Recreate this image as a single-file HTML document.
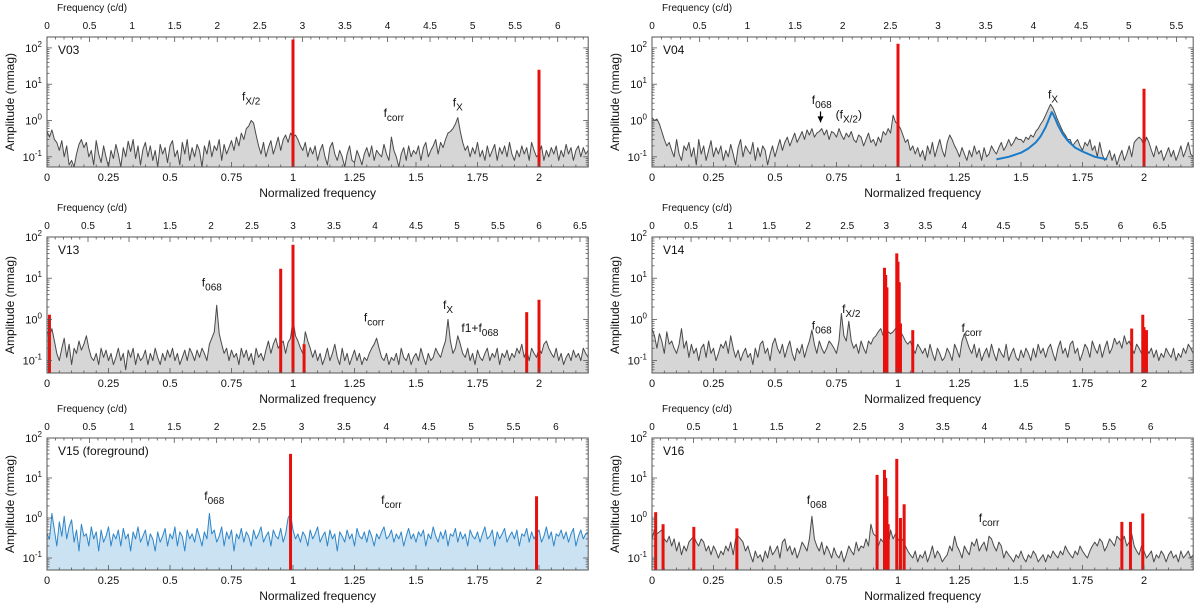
<!DOCTYPE html>
<html><head><meta charset="utf-8">
<style>
html,body{margin:0;padding:0;background:#fff;}
svg{display:block;font-family:"Liberation Sans",Arial,sans-serif;}
</style></head>
<body>
<svg id="fig" width="1200" height="607" viewBox="0 0 1200 607" xmlns="http://www.w3.org/2000/svg"></svg>
<script>
// ---------- data ----------
const freqStep = 0.01;
const noiseV03 = [.5,.35,.55,.3,.25,.15,.28,.1,.2,.06,.08,.05,.12,.22,.3,.18,.25,.1,.15,.06,.28,.12,.07,.2,.1,.05,.15,.09,.22,.12,.05,.18,.1,.27,.14,.3,.09,.2,.06,.16,.25,.1,.2,.08,.15,.05,.22,.12,.18,.07,.2,.28,.1,.15,.06,.25,.12,.3,.08,.18,.1,.22,.15,.05,.2,.12,.28,.1,.2,.15,.3,.08,.22,.12,.18,.28,.15,.35,.2,.45,.3,.6,.7,1.0,.85,.4,.2,.12,.25,.1,.18,.28,.12,.2,.35,.15,.3,.4,.25,.45,.35,.4,.3,.2,.15,.25,.1,.18,.12,.2,.08,.15,.22,.1,.06,.18,.25,.12,.08,.15,.1,.05,.12,.2,.08,.07,.15,.1,.06,.12,.18,.1,.2,.08,.15,.12,.1,.22,.12,.08,.35,.15,.1,.05,.12,.18,.08,.2,.1,.15,.12,.2,.08,.18,.25,.1,.15,.2,.3,.12,.25,.18,.3,.45,.5,.6,.8,1.2,.5,.25,.15,.2,.1,.18,.12,.25,.1,.15,.08,.2,.1,.15,.22,.08,.18,.12,.2,.1,.25,.12,.08,.15,.1,.2,.12,.18,.08,.25,.15,.1,.12,.2,.08,.15,.1,.18,.12,.2,.08,.15,.1,.22,.12,.18,.08,.15,.2,.1,.18,.12,.15];
const noiseV04 = [1.2,1.0,1.1,.8,.5,.3,.2,.25,.15,.1,.3,.12,.08,.2,.15,.25,.1,.18,.06,.3,.12,.2,.08,.15,.28,.1,.18,.12,.2,.08,.15,.1,.22,.12,.06,.18,.3,.1,.2,.15,.12,.25,.08,.18,.1,.2,.15,.06,.12,.2,.1,.18,.3,.15,.25,.35,.2,.3,.45,.25,.35,.5,.3,.55,.4,.6,.35,.45,.5,.6,.4,.55,.3,.5,.45,.35,.6,.4,.3,.45,.35,.5,.3,.25,.4,.35,.2,.3,.45,.25,.3,.2,.35,.25,.5,.4,.6,.45,1.4,.9,.8,.6,.4,.25,.3,.15,.2,.12,.18,.1,.15,.08,.2,.12,.25,.1,.18,.3,.15,.1,.25,.4,.3,.2,.15,.1,.18,.12,.08,.15,.1,.2,.12,.15,.08,.18,.1,.12,.2,.15,.12,.18,.25,.15,.2,.3,.2,.25,.35,.3,.3,.25,.35,.3,.4,.35,.5,.6,.8,1.0,1.4,2.0,2.8,2.2,1.5,1.0,.7,.5,.4,.3,.3,.2,.25,.3,.2,.15,.25,.2,.3,.15,.2,.1,.25,.12,.08,.1,.15,.08,.12,.06,.1,.15,.08,.12,.2,.1,.25,.3,.35,.3,.2,.35,.25,.15,.1,.2,.12,.15,.08,.12,.18,.1,.15,.08,.12,.2,.1,.15,.25,.12,.1];
const noiseV13 = [.5,.4,.6,.3,.15,.1,.2,.35,.12,.25,.08,.2,.15,.3,.18,.25,.4,.2,.12,.1,.15,.08,.2,.12,.18,.1,.15,.08,.12,.2,.1,.15,.06,.18,.12,.2,.08,.15,.1,.12,.18,.08,.15,.1,.2,.12,.08,.15,.1,.18,.12,.2,.1,.15,.08,.12,.18,.1,.2,.15,.1,.18,.12,.2,.15,.1,.25,.35,.5,2.2,.45,.25,.15,.2,.1,.18,.12,.15,.08,.2,.12,.18,.1,.15,.08,.2,.12,.15,.1,.18,.3,.15,.25,.35,.2,.25,.3,.15,.28,.35,1.0,.4,.3,.2,.15,.5,.3,.2,.12,.18,.1,.15,.08,.12,.2,.1,.15,.25,.12,.08,.2,.1,.15,.08,.12,.18,.1,.15,.08,.12,.1,.15,.2,.25,.35,.2,.12,.1,.15,.08,.12,.1,.15,.08,.2,.12,.1,.15,.08,.12,.15,.1,.2,.12,.08,.15,.1,.12,.2,.15,.12,.2,.3,1.0,.3,.15,.2,.4,.25,.15,.12,.2,.1,.15,.08,.18,.12,.1,.15,.2,.1,.15,.12,.2,.08,.15,.12,.18,.1,.15,.12,.2,.15,.25,.12,.18,.1,.2,.15,.12,.2,.15,.25,.3,.2,.15,.12,.2,.1,.15,.08,.12,.15,.1,.18,.12,.15,.1,.2,.15,.12];
const noiseV14 = [.6,.4,.2,.45,.3,.15,.5,.25,.3,.2,.15,.25,.6,.2,.3,.12,.25,.15,.2,.1,.2,.25,.12,.3,.15,.2,.1,.15,.25,.2,.3,.15,.4,.2,.12,.18,.1,.15,.2,.12,.15,.08,.2,.12,.25,.3,.15,.2,.1,.25,.35,.2,.15,.25,.12,.2,.3,.15,.1,.2,.15,.25,.12,.2,.3,.55,.25,.15,.3,.2,.15,.2,.3,.25,.2,.15,.3,1.4,.4,.3,.9,.3,.2,.25,.15,.3,.2,.15,.3,.25,.35,.4,.5,.6,.4,.35,.5,.45,.5,.6,.8,.5,.4,.3,.25,.3,.2,.15,.25,.2,.15,.2,.12,.25,.15,.1,.2,.15,.1,.12,.2,.15,.1,.25,.18,.12,.3,.45,.3,.2,.15,.25,.12,.2,.1,.15,.2,.12,.25,.15,.1,.2,.15,.12,.25,.1,.15,.2,.12,.1,.18,.12,.2,.15,.1,.2,.12,.25,.15,.2,.12,.2,.25,.15,.1,.2,.3,.15,.2,.12,.25,.3,.15,.2,.1,.15,.25,.2,.12,.3,.2,.15,.25,.12,.2,.3,.15,.2,.35,.25,.3,.2,.4,.25,.3,.2,.15,.25,.2,.15,.3,.2,.15,.2,.12,.18,.1,.15,.12,.2,.15,.12,.2,.1,.15,.12,.2,.15,.25,.2,.15];
const noiseV15 = [.4,.3,1.3,.5,.2,.8,.35,1.1,.3,.6,.9,.25,.5,.15,.7,.35,.4,.2,.6,.3,.45,.15,.5,.25,.35,.6,.2,.4,.3,.5,.2,.55,.3,.4,.15,.45,.3,.6,.25,.35,.5,.2,.4,.3,.15,.45,.25,.35,.55,.2,.4,.3,.6,.2,.45,.35,.15,.5,.3,.4,.25,.55,.35,.2,.45,.3,1.3,.4,.5,.25,.35,.6,.2,.45,.3,.5,.15,.4,.3,.55,.25,.45,.35,.2,.5,.3,.4,.6,.25,.35,.45,.2,.5,.35,.3,.55,.25,.4,1.0,1.3,.5,.3,.4,.25,.45,.35,.2,.5,.3,.4,.6,.25,.35,.45,.2,.5,.3,.4,.15,.45,.35,.25,.5,.3,.4,.2,.55,.35,.3,.45,.25,.5,.35,.2,.4,.3,.45,.6,.3,.35,.5,.25,.4,.3,.45,.2,.35,.55,.3,.4,.25,.45,.35,.5,.2,.4,.3,.6,.35,.25,.45,.3,.5,.2,.4,.35,.55,.25,.45,.3,.4,.2,.5,.35,.3,.45,.25,.4,.6,.3,.35,.5,.2,.45,.3,.4,.55,.25,.35,.45,.3,.5,.2,.4,.35,.55,.25,.45,.3,.4,.5,.25,.35,.6,.3,.45,.2,.4,.35,.5,.3,.45,.25,.4,.55,.2,.35,.5,.3,.4,.45];
const noiseV16 = [.3,.5,.4,.45,.5,.3,.25,.35,.2,.3,.15,.25,.12,.2,.15,.25,.3,.35,.25,.2,.3,.25,.15,.2,.12,.2,.15,.1,.15,.12,.2,.15,.25,.12,.3,.35,.3,.25,.15,.2,.12,.08,.15,.1,.12,.08,.15,.1,.2,.12,.15,.2,.1,.25,.3,.15,.2,.12,.18,.1,.15,.25,.2,.15,.3,1.1,.3,.2,.15,.25,.12,.2,.15,.1,.18,.12,.1,.15,.08,.12,.2,.15,.12,.25,.15,.2,.18,.3,.2,.7,.4,.35,.2,.3,.25,.3,.2,.5,.3,.4,.3,.25,.3,.2,.15,.12,.1,.15,.08,.12,.1,.15,.08,.12,.2,.1,.15,.12,.08,.1,.12,.2,.15,.35,.2,.15,.1,.2,.15,.12,.25,.2,.3,.15,.2,.25,.15,.35,.3,.2,.15,.25,.2,.1,.15,.12,.1,.08,.12,.1,.15,.1,.08,.12,.1,.15,.12,.08,.1,.12,.08,.12,.1,.15,.12,.1,.15,.12,.2,.15,.12,.1,.15,.12,.2,.15,.12,.1,.15,.2,.25,.2,.3,.25,.15,.2,.3,.25,.2,.35,.3,.25,.35,.2,.25,.4,.2,.15,.12,.2,.15,.1,.12,.15,.08,.12,.1,.15,.12,.08,.12,.15,.1,.12,.08,.15,.1,.12,.15,.1,.12];

const redFreqV03 = [1.0, 2.0];           const redAmpV03 = [170, 25];
const redFreqV04 = [1.0, 2.0];           const redAmpV04 = [130, 7.5];
const redFreqV13 = [0.01, 0.95, 1.0, 1.045, 1.95, 2.0];
const redAmpV13  = [1.3, 17, 65, 0.25, 1.5, 3];
const redFreqV14 = [0.945, 0.95, 0.955, 0.995, 1.0, 1.005, 1.01, 1.06, 1.95, 1.995, 2.0, 2.01];
const redAmpV14  = [18, 12, 6, 40, 25, 8, 0.8, 0.55, 0.6, 1.3, 0.65, 0.55];
const redFreqV15 = [0.99, 1.99];         const redAmpV15 = [40, 3.5];
const redFreqV16 = [0.015, 0.045, 0.17, 0.345, 0.915, 0.945, 0.95, 0.955, 0.96, 0.995, 1.01, 1.025, 1.91, 1.945, 1.995];
const redAmpV16  = [1.4, 0.7, 0.6, 0.55, 12, 16, 10, 3.5, 0.7, 30, 1.0, 2.2, 0.8, 0.8, 1.3];

const fitX = [1.4,1.45,1.5,1.53,1.56,1.58,1.6,1.61,1.62,1.625,1.63,1.64,1.65,1.67,1.69,1.72,1.75,1.8,1.85];
const fitY = [.085,.1,.13,.17,.25,.37,.65,.95,1.4,1.7,1.5,1.1,.75,.42,.28,.18,.14,.1,.085];

const bottomTicks = [0,0.25,0.5,0.75,1,1.25,1.5,1.75,2];
const bottomTickLabels = ["0","0.25","0.5","0.75","1","1.25","1.5","1.75","2"];
const decadeExps = [2,1,0,-1];

// ---------- helpers ----------
const NS = "http://www.w3.org/2000/svg";
const svg = document.getElementById("fig");
function mk(tag, attrs, parent){ const e=document.createElementNS(NS,tag); for(const k in attrs) e.setAttribute(k,attrs[k]); (parent||svg).appendChild(e); return e; }

const panels = [
  {id:"v03", name:"V03", x0:47,  top:37,  bot:167, lt:2.3, lb:-1.28, f0:2.89, fmax:6,   noise:noiseV03, rf:redFreqV03, ra:redAmpV03, color:"#4a4a4a", fill:"#d6d6d6"},
  {id:"v04", name:"V04", x0:652, top:37,  bot:167, lt:2.3, lb:-1.28, f0:2.58, fmax:5.5, noise:noiseV04, rf:redFreqV04, ra:redAmpV04, color:"#4a4a4a", fill:"#d6d6d6"},
  {id:"v13", name:"V13", x0:47,  top:237, bot:373, lt:2,   lb:-1.3,  f0:3.0,  fmax:6.5, noise:noiseV13, rf:redFreqV13, ra:redAmpV13, color:"#4a4a4a", fill:"#d6d6d6"},
  {id:"v14", name:"V14", x0:652, top:237, bot:373, lt:2,   lb:-1.3,  f0:3.15, fmax:6.5, noise:noiseV14, rf:redFreqV14, ra:redAmpV14, color:"#4a4a4a", fill:"#d6d6d6"},
  {id:"v15", name:"V15 (foreground)", x0:47,  top:438, bot:570, lt:2, lb:-1.3, f0:2.9, fmax:6, noise:noiseV15, rf:redFreqV15, ra:redAmpV15, color:"#2f86c8", fill:"#cbe2f3"},
  {id:"v16", name:"V16", x0:652, top:438, bot:570, lt:2,   lb:-1.3,  f0:2.96, fmax:6,   noise:noiseV16, rf:redFreqV16, ra:redAmpV16, color:"#4a4a4a", fill:"#d6d6d6"}
];
const UNIT = 246, XMAX = 2.2;

const notes = {
  v03:[["f","X/2",0.83,0.55],["f","corr",1.41,0.1],["f","X",1.67,0.38]],
  v04:[["f","068",0.69,0.45],["(f","X/2",0.8,0.05,")"],["f","X",1.63,0.6]],
  v13:[["f","068",0.67,0.8],["f","corr",1.33,-0.05],["f","X",1.63,0.25],["f1+f","068",1.76,-0.3]],
  v14:[["f","068",0.69,-0.25],["f","X/2",0.81,0.15],["f","corr",1.3,-0.3]],
  v15:[["f","068",0.68,0.45],["f","corr",1.4,0.35]],
  v16:[["f","068",0.67,0.35],["f","corr",1.37,-0.1]]
};

panels.forEach(p=>{
  const g = mk("g",{});
  
  
  const W = XMAX*UNIT, xr = p.x0+W;
  const X = v => p.x0 + v*UNIT;
  const Y = a => { const l=Math.max(Math.log10(Math.max(a,1e-9)),p.lb); return p.top + (p.lt-l)/(p.lt-p.lb)*(p.bot-p.top); };
  const YL = l => p.top + (p.lt-l)/(p.lt-p.lb)*(p.bot-p.top);

  let d="";
  p.noise.forEach((a,i)=>{ d += (i?"L":"M")+X(i*freqStep).toFixed(1)+","+Y(a).toFixed(1); });
  const lastX = X((p.noise.length-1)*freqStep);
  const ar = mk("path",{d:d+`L${lastX.toFixed(1)},${p.bot}L${p.x0},${p.bot}Z`,fill:p.fill,stroke:"none"},g);
  
  
  const ln = mk("path",{d:d,fill:"none",stroke:p.color,"stroke-width":1,"stroke-linejoin":"round"},g);
  
  

  p.rf.forEach((f,i)=>{
    const r = mk("line",{x1:X(f),x2:X(f),y1:p.bot,y2:Y(p.ra[i]),stroke:"#e8100c","stroke-width":3},g);
    
    
  });

  if(p.id==="v04"){
    let fd=""; fitX.forEach((x,i)=>{ fd += (i?"L":"M")+X(x).toFixed(1)+","+Y(fitY[i]).toFixed(1); });
    const fl = mk("path",{d:fd,fill:"none",stroke:"#1a7bc9","stroke-width":2,"stroke-linejoin":"round"},g);
    
    
    const aw = mk("path",{d:`M${X(0.685)},${YL(0.25)}L${X(0.685)},${YL(-0.05)}`,stroke:"#000","stroke-width":1.2},g);
    
    
    const ah = mk("path",{d:`M${X(0.685)-3},${YL(-0.05)-6}L${X(0.685)+3},${YL(-0.05)-6}L${X(0.685)},${YL(-0.05)}Z`,fill:"#000"},g);
    
    
  }

  const fr = mk("rect",{x:p.x0,y:p.top,width:W,height:p.bot-p.top,fill:"none",stroke:"#555","stroke-width":1},g);
  
  

  for(let v=0; v<=XMAX+1e-9; v+=0.05){
    const major = Math.abs(v/0.25-Math.round(v/0.25))<1e-6;
    mk("line",{x1:X(v),x2:X(v),y1:p.bot,y2:p.bot-(major?5:2.5),stroke:"#555","stroke-width":0.8},g);
  }
  bottomTicks.forEach((v,i)=>{
    const t = mk("text",{x:X(v),y:p.bot+14,"font-size":11,"text-anchor":"middle",fill:"#111"},g);
    t.textContent = bottomTickLabels[i];
    
    
  });
  const xt = mk("text",{x:p.x0+W/2,y:p.bot+30,"font-size":12,"text-anchor":"middle",fill:"#111"},g);
  xt.textContent = "Normalized frequency";
  
  

  for(let c=0; c<=p.fmax+0.3; c+=0.1){
    const xn = c/p.f0; if(xn>XMAX+1e-6) break;
    const major = Math.abs(c/0.5-Math.round(c/0.5))<1e-6;
    mk("line",{x1:X(xn),x2:X(xn),y1:p.top,y2:p.top+(major?5:2.5),stroke:"#555","stroke-width":0.8},g);
  }
  for(let c=0; c<=p.fmax+1e-6; c+=0.5){
    const t = mk("text",{x:X(c/p.f0),y:p.top-8,"font-size":10,"text-anchor":"middle",fill:"#111"},g);
    t.textContent = (Math.round(c*10)/10).toString();
    
    
  }
  const tt = mk("text",{x:p.x0+10,y:p.top-26,"font-size":10,fill:"#111"},g);
  tt.textContent = "Frequency (c/d)";
  
  

  for(let e=-2; e<=2; e++){
    for(let m=1; m<10; m++){
      const l = e+Math.log10(m); if(l<p.lb-1e-6||l>p.lt+1e-6) continue;
      const len = m===1?5:2.5;
      mk("line",{x1:p.x0,x2:p.x0+len,y1:YL(l),y2:YL(l),stroke:"#555","stroke-width":0.8},g);
      mk("line",{x1:xr,x2:xr-len,y1:YL(l),y2:YL(l),stroke:"#555","stroke-width":0.8},g);
    }
  }
  decadeExps.forEach(e=>{
    const t = mk("text",{x:p.x0-5,y:YL(e)+4,"font-size":11,"text-anchor":"end",fill:"#111"},g);
    
    
    const a = mk("tspan",{},t); a.textContent="10";
    const b = mk("tspan",{dy:-5,"font-size":8},t); b.textContent=String(e);
  });
  const yt = mk("text",{x:0,y:0,"font-size":12,"text-anchor":"middle",fill:"#111",transform:`translate(${p.x0-33},${(p.top+p.bot)/2}) rotate(-90)`},g);
  yt.textContent = "Amplitude (mmag)";
  
  

  const pn = mk("text",{x:p.x0+11,y:p.top+17,"font-size":12,fill:"#111"},g);
  pn.textContent = p.name;
  
  

  (notes[p.id]||[]).forEach(n=>{
    const t = mk("text",{x:X(n[2]),y:YL(n[3]),"font-size":12,"text-anchor":"middle",fill:"#111"},g);
    
    
    const a = mk("tspan",{},t); a.textContent=n[0];
    const b = mk("tspan",{dy:4,"font-size":10},t); b.textContent=n[1];
    if(n[4]){ const c = mk("tspan",{dy:-4},t); c.textContent=n[4]; }
  });
});
</script>
</body></html>
